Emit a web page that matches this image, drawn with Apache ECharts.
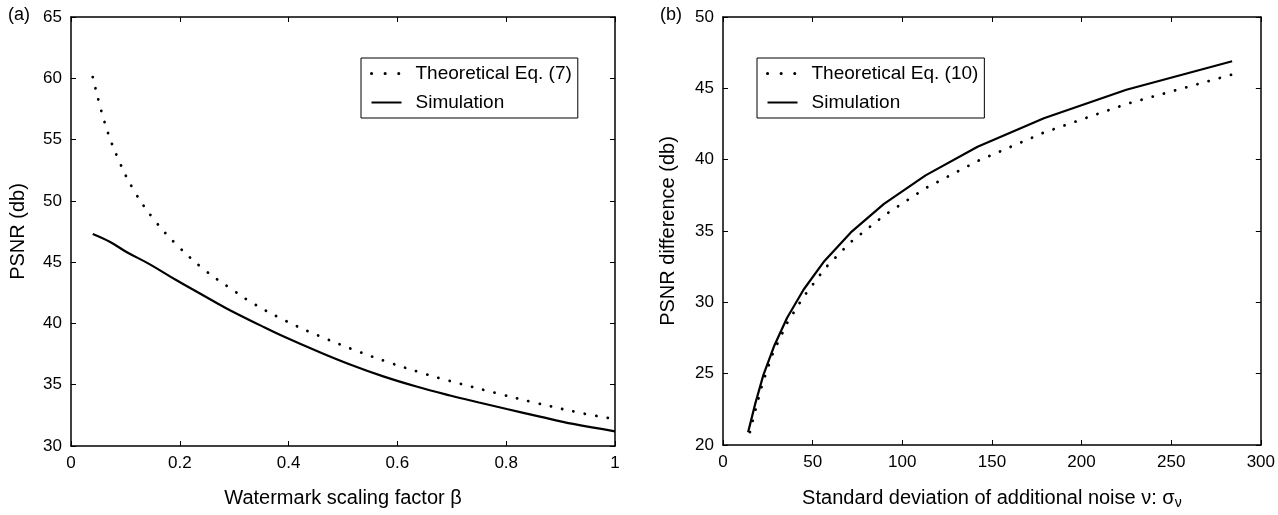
<!DOCTYPE html>
<html>
<head>
<meta charset="utf-8">
<script src="https://cdn.jsdelivr.net/npm/echarts@6/dist/echarts.min.js"></script>
<style>html,body{margin:0;padding:0;background:#fff}#c{width:1278px;height:515px}</style>
</head>
<body>
<div id="c"></div>
<script>
// ---- Panel (a) data ----
const betaTheory = [0.04, 0.0625, 0.086, 0.115, 0.153, 0.197, 0.246, 0.30, 0.336, 0.395, 0.455, 0.517, 0.579, 0.642, 0.684, 0.792, 0.856, 0.942, 1.0];
const psnrTheory = [60.1, 56.3, 53.5, 50.9, 48.45, 46.3, 44.35, 42.65, 41.6, 40.2, 39.0, 37.9, 36.9, 36.0, 35.45, 34.2, 33.5, 32.65, 32.2];
const betaSim = [0.04, 0.072, 0.102, 0.145, 0.194, 0.237, 0.286, 0.35, 0.39, 0.452, 0.513, 0.574, 0.635, 0.697, 0.75, 0.801, 0.862, 0.923, 1.0];
const psnrSim = [47.3, 46.65, 45.83, 44.82, 43.52, 42.44, 41.22, 39.8, 38.95, 37.75, 36.65, 35.68, 34.85, 34.12, 33.55, 33.02, 32.4, 31.8, 31.2];

// ---- Panel (b) data ----
const sigmaTheory = [15, 18, 22, 28, 36, 45, 57, 71, 90, 113, 142, 179, 225, 285];
const diffTheory = [20.9, 22.4, 24.3, 26.5, 28.6, 30.4, 32.4, 34.2, 36.1, 38.0, 39.9, 41.9, 43.9, 46.0];
const sigmaSim = [14, 18, 22.5, 28.4, 35.7, 45, 56.6, 71.3, 89.8, 113, 142, 179, 225, 284];
const diffSim = [20.9, 22.9, 24.9, 26.9, 28.9, 30.9, 32.9, 34.9, 36.9, 38.9, 40.9, 42.9, 44.9, 46.9];

// ---- Axis ticks ----
const xTicksA = [0, 0.2, 0.4, 0.6, 0.8, 1];
const yTicksA = [30, 35, 40, 45, 50, 55, 60, 65];
const xTicksB = [0, 50, 100, 150, 200, 250, 300];
const yTicksB = [20, 25, 30, 35, 40, 45, 50];

const FONT = 'Liberation Sans, Arial, Helvetica, sans-serif';
const zip = (a, b) => a.map((v, i) => [v, b[i]]);

function axisBase(ticks, extra) {
  return Object.assign({
    type: 'value',
    min: ticks[0],
    max: ticks[ticks.length - 1],
    interval: ticks[1] - ticks[0],
    axisLine: { show: true, onZero: false, lineStyle: { color: '#000', width: 1.5 } },
    axisTick: { show: true, inside: true, length: 5, lineStyle: { color: '#000', width: 1 } },
    splitLine: { show: false },
    axisLabel: { color: '#000', fontFamily: FONT, fontSize: 17, margin: 9,
      formatter: v => String(+v.toFixed(2)) }
  }, extra);
}

const dotted = { color: '#000', width: 2.8, type: [0.1, 11.5], cap: 'round' };
const solid = { color: '#000', width: 2.2 };
const legendDotted = { color: '#000', width: 3, type: [0.1, 13.5], cap: 'round' };
const nameStyle = { fontFamily: FONT, fontSize: 20, color: '#000' };
const legendBase = {
  orient: 'vertical', top: 58,
  borderColor: '#000', borderWidth: 1, borderRadius: 0,
  padding: [5, 6, 5, 9],
  itemWidth: 30, itemHeight: 14, itemGap: 8,
  itemStyle: { opacity: 0 },
  textStyle: { fontFamily: FONT, fontSize: 19, color: '#000', lineHeight: 21, padding: [0, 0, 0, 9] },
  selectedMode: false
};
const titleStyle = { fontFamily: FONT, fontSize: 18, fontWeight: 'normal', color: '#000' };

const option = {
  animation: false,
  backgroundColor: '#fff',
  title: [
    { text: '(a)', left: 8, top: 6, padding: 0, textStyle: titleStyle },
    { text: '(b)', left: 660, top: 6, padding: 0, textStyle: titleStyle }
  ],
  grid: [
    { left: 71, right: 663, top: 17, bottom: 69 },
    { left: 723, right: 10, top: 17, bottom: 69 }
  ],
  legend: [
    Object.assign({}, legendBase, { left: 361, data: [
      { name: 'Theoretical Eq. (7)', lineStyle: legendDotted }, { name: 'Simulation' }] }),
    Object.assign({}, legendBase, { left: 757, data: [
      { name: 'Theoretical Eq. (10)', lineStyle: legendDotted }, { name: 'Simulation ' }] })
  ],
  xAxis: [
    axisBase(xTicksA, { gridIndex: 0, position: 'bottom',
      name: 'Watermark scaling factor β', nameLocation: 'middle', nameGap: 42,
      nameTextStyle: nameStyle }),
    axisBase(xTicksA, { gridIndex: 0, position: 'top', axisLabel: { show: false } }),
    axisBase(xTicksB, { gridIndex: 1, position: 'bottom',
      name: 'Standard deviation of additional noise ν: σ{sub|ν}', nameLocation: 'middle', nameGap: 42,
      nameTextStyle: Object.assign({}, nameStyle, {
        rich: { sub: { fontFamily: FONT, fontSize: 14, color: '#000', verticalAlign: 'bottom', padding: [9, 0, 0, 0] } } }) }),
    axisBase(xTicksB, { gridIndex: 1, position: 'top', axisLabel: { show: false } })
  ],
  yAxis: [
    axisBase(yTicksA, { gridIndex: 0, position: 'left',
      name: 'PSNR (db)', nameLocation: 'middle', nameGap: 43,
      nameTextStyle: nameStyle }),
    axisBase(yTicksA, { gridIndex: 0, position: 'right', axisLabel: { show: false } }),
    axisBase(yTicksB, { gridIndex: 1, position: 'left',
      name: 'PSNR difference (db)', nameLocation: 'middle', nameGap: 45,
      nameTextStyle: nameStyle }),
    axisBase(yTicksB, { gridIndex: 1, position: 'right', axisLabel: { show: false } })
  ],
  series: [
    { name: 'Theoretical Eq. (7)', type: 'line', xAxisIndex: 0, yAxisIndex: 0, smooth: 0.4,
      showSymbol: false, symbol: 'none', lineStyle: dotted, itemStyle: { color: '#000' },
      data: zip(betaTheory, psnrTheory) },
    { name: 'Simulation', type: 'line', xAxisIndex: 0, yAxisIndex: 0, smooth: 0.4,
      showSymbol: false, symbol: 'none', lineStyle: solid, itemStyle: { color: '#000' },
      data: zip(betaSim, psnrSim) },
    { name: 'Theoretical Eq. (10)', type: 'line', xAxisIndex: 2, yAxisIndex: 2, smooth: false,
      showSymbol: false, symbol: 'none', lineStyle: dotted, itemStyle: { color: '#000' },
      data: zip(sigmaTheory, diffTheory) },
    { name: 'Simulation ', type: 'line', xAxisIndex: 2, yAxisIndex: 2, smooth: false,
      showSymbol: false, symbol: 'none', lineStyle: solid, itemStyle: { color: '#000' },
      data: zip(sigmaSim, diffSim) }
  ]
};

const chart = echarts.init(document.getElementById('c'), null, { renderer: 'canvas' });
chart.setOption(option);
</script>
</body>
</html>
